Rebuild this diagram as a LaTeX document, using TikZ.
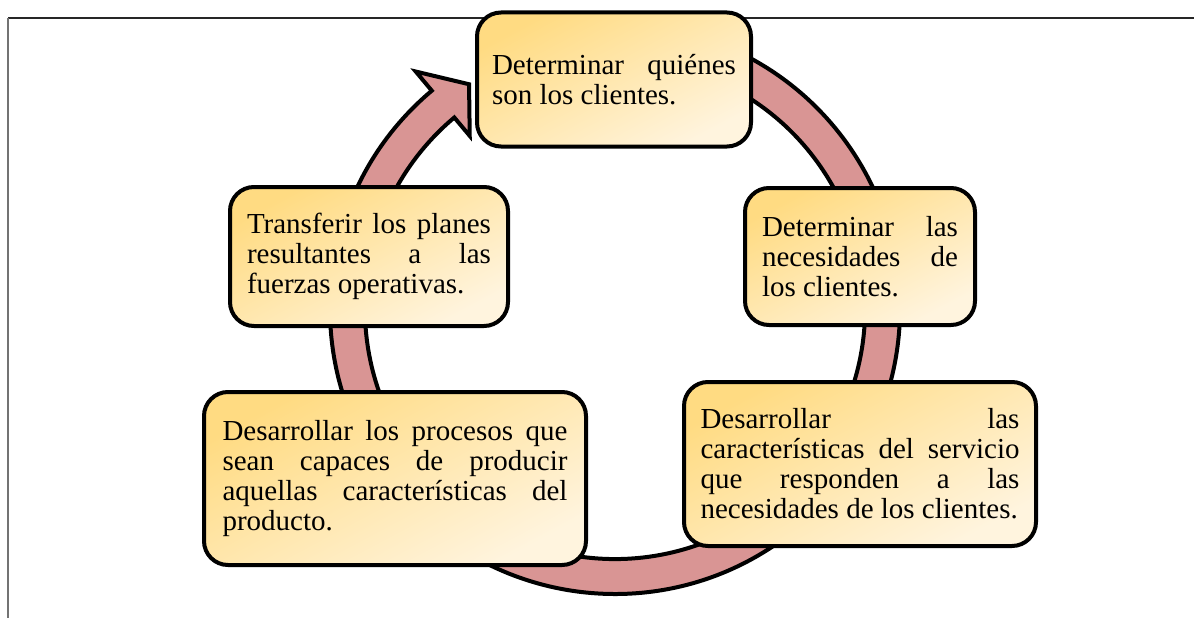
\documentclass[tikz,border=0pt]{standalone}
\usepackage{fontspec}
\setmainfont{Liberation Serif}
\definecolor{boxtop}{RGB}{255,219,130}
\definecolor{boxbot}{RGB}{255,244,222}
\definecolor{ringpink}{RGB}{217,149,148}
\begin{document}
\begin{tikzpicture}[x=1pt,y=-1pt,
  stepbox/.style={draw=black, line width=4pt, rounded corners=24pt,
    top color=boxtop, bottom color=boxbot, shading angle=28,
    inner sep=0pt, align=justify,
    font={\fontsize{29}{30}\selectfont\tolerance=10000\hyphenpenalty=10000}},
  ringarrow/.style={fill=ringpink, draw=black, line width=4pt, line join=miter},
  frametop/.style={line width=1.5pt, draw=black!85},
  frameleft/.style={line width=2pt, draw=black!55}]
\useasboundingbox (0,0) rectangle (1194,618);
% frame lines
\coordinate (fa) at (8,18);
\coordinate (fb) at (1194,18);
\coordinate (fc) at (8,618);
\draw[frametop] (fa) -- (fb);
\draw[frameleft] (fa) -- (fc);
% circular arrow
\begin{scope}[shift={(615,309)}]
\draw[ringarrow] (230:250) -- (230:226) -- (237:268) -- (230:310) -- (230:285)
  arc[start angle=230, end angle=-70, radius=285] -- (-70:250)
  arc[start angle=-70, end angle=230, radius=250] -- cycle;
\end{scope}
% boxes
\node[stepbox, text width=244pt, minimum width=274pt, minimum height=134pt] (n1) at (614,79.5)
  {Determinar quiénes\linebreak son los clientes.};
\node[stepbox, text width=196pt, minimum width=230pt, minimum height=137pt] (n2) at (860,256.5)
  {Determinar las\linebreak necesidades de\linebreak los clientes.};
\node[stepbox, text width=319pt, minimum width=352pt, minimum height=164pt] (n3) at (860,464)
  {Desarrollar las\linebreak características del servicio\linebreak que responden a las\linebreak necesidades de los clientes.};
\node[stepbox, text width=244pt, minimum width=278pt, minimum height=139pt] (n4) at (369,256.5)
  {Transferir los planes\linebreak resultantes a las\linebreak fuerzas operativas.};
\node[stepbox, text width=345pt, minimum width=382pt, minimum height=173pt] (n5) at (395,478.5)
  {Desarrollar los procesos que\linebreak sean capaces de producir\linebreak aquellas características del\linebreak producto.};
\end{tikzpicture}
\end{document}
